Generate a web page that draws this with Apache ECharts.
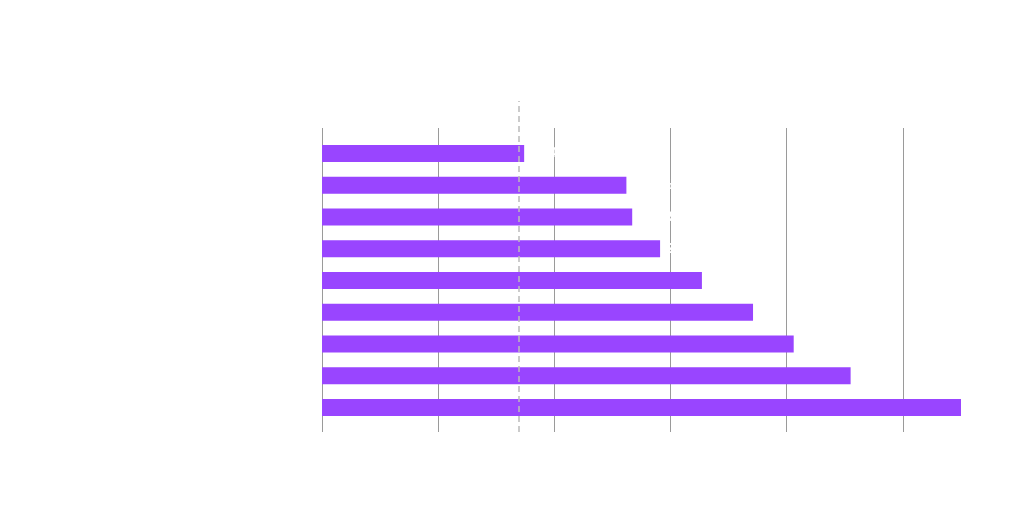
<!DOCTYPE html>
<html>
<head>
<meta charset="utf-8">
<style>
  html, body { margin: 0; padding: 0; background: #ffffff; }
  #main { width: 1024px; height: 527px; }
</style>
<script src="https://cdn.jsdelivr.net/npm/echarts@6/dist/echarts.min.js"></script>
</head>
<body>
<div id="main"></div>
<script>
  // data, listed top to bottom
  var categories = ['Category A', 'Category B', 'Category C', 'Category D', 'Category E',
                    'Category F', 'Category G', 'Category H', 'Category I'];
  var values = [17.4, 26.2, 26.7, 29.1, 32.7, 37.1, 40.6, 45.5, 55.0];
  var referenceValue = 16.9;
  var axisMax = 55;
  var tickStep = 10;

  var myChart = echarts.init(document.getElementById('main'));

  var white = '#ffffff';
  var left = 322, right = 63;

  var option = {
    backgroundColor: '#ffffff',
    textStyle: { fontFamily: 'Noto Sans' },
    title: {
      text: 'Chart Title',
      left: 20,
      top: 16,
      textStyle: { color: white, fontSize: 20 }
    },
    grid: [
      { left: left, right: right, top: 137.5, bottom: 103.5 },   // bars
      { left: left, right: right, top: 128, bottom: 95 },        // split lines
      { left: left, right: right, top: 101, bottom: 95 }         // reference line
    ],
    xAxis: [
      {
        gridIndex: 0, type: 'value', min: 0, max: axisMax, interval: tickStep,
        axisLine: { show: false }, axisTick: { show: false },
        splitLine: { show: false },
        axisLabel: { color: white, fontSize: 12, margin: 16, showMaxLabel: false }
      },
      {
        gridIndex: 1, type: 'value', min: 0, max: axisMax, interval: tickStep,
        axisLine: { show: false }, axisTick: { show: false }, axisLabel: { show: false },
        splitLine: { show: true, showMaxLine: false, lineStyle: { color: '#9a9a9a', width: 1 } }
      },
      {
        gridIndex: 2, type: 'value', min: 0, max: axisMax, show: false,
        splitLine: { show: false }
      }
    ],
    yAxis: [
      {
        gridIndex: 0, type: 'category', data: categories, inverse: true,
        axisLine: { show: false }, axisTick: { show: false },
        axisLabel: { color: white, fontSize: 13, margin: 14 }
      },
      { gridIndex: 1, type: 'value', min: 0, max: 1, show: false, splitLine: { show: false } },
      { gridIndex: 2, type: 'value', min: 0, max: 1, show: false, splitLine: { show: false } }
    ],
    series: [
      {
        name: 'Value',
        type: 'bar',
        xAxisIndex: 0, yAxisIndex: 0,
        data: values,
        barWidth: 17,
        itemStyle: { color: '#9945ff' },
        label: {
          show: true, position: 'right', distance: 6,
          color: white, fontSize: 14, fontWeight: 'bold',
          formatter: function (p) { return p.value.toFixed(1) + '%'; }
        }
      },
      {
        name: 'Reference',
        type: 'line',
        xAxisIndex: 2, yAxisIndex: 2,
        data: [],
        markLine: {
          silent: true,
          symbol: 'none',
          lineStyle: { color: '#bbbbbb', type: [6, 4], width: 1.5 },
          label: { show: true, position: 'end', color: white, fontSize: 12, formatter: 'Average' },
          data: [{ xAxis: referenceValue }]
        }
      }
    ]
  };

  myChart.setOption(option);
</script>
</body>
</html>
